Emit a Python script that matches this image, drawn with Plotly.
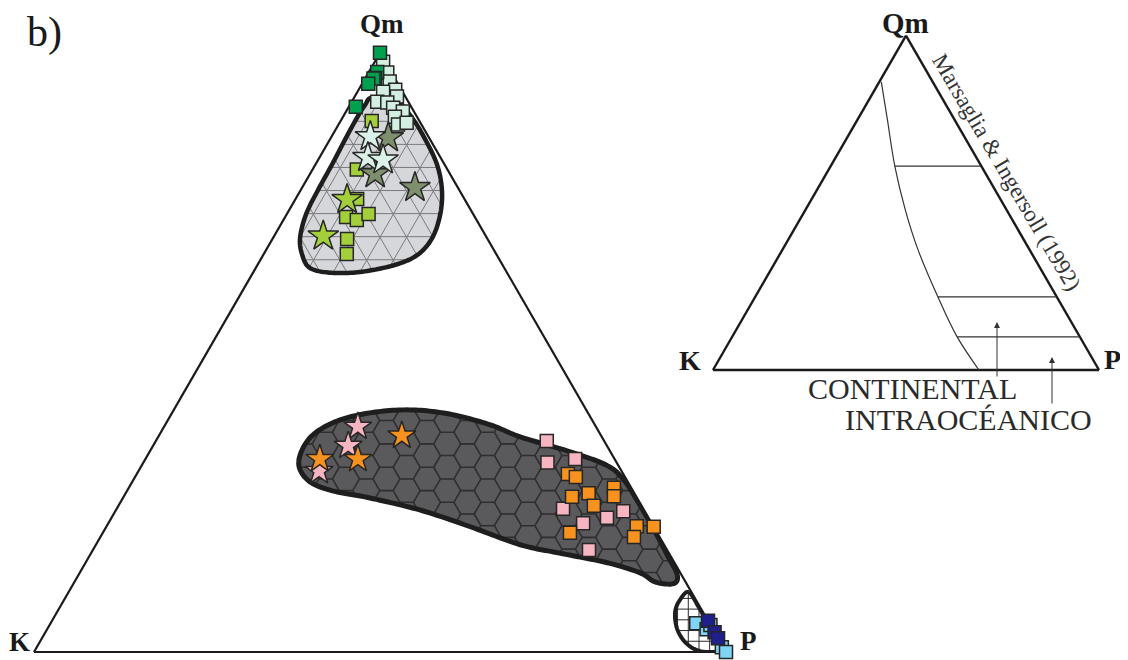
import numpy as np
import plotly.graph_objects as go

# ---------------- sample compositions : Qm, K, P (%) ----------------
mint_sq_qm = [98.5, 96.7, 95.2, 93.8, 93.5, 92.7, 91.8, 91.7, 90.8, 90.2, 89.3, 88.0, 88.3]
mint_sq_k  = [0.3, 0.6, 1.0, 0.9, 2.8, 1.2, 4.5, 3.1, 2.7, 1.6, 3.2, 3.4, 2.0]
mint_sq_p  = [1.2, 2.7, 3.8, 5.3, 3.7, 6.1, 3.7, 5.2, 6.5, 8.2, 7.5, 8.6, 9.7]

dkgreen_sq_qm = [100.0, 96.8, 95.8, 95.7, 94.8, 91.0]
dkgreen_sq_k  = [0.0, 2.0, 2.8, 3.1, 4.3, 8.0]
dkgreen_sq_p  = [0.0, 1.2, 1.4, 1.2, 0.9, 1.0]

lime_sq_qm = [88.6, 80.5, 75.6, 72.6, 72.1, 73.1, 68.9, 66.4]
lime_sq_k  = [6.9, 13.1, 15.5, 18.6, 17.3, 15.1, 20.3, 21.6]
lime_sq_p  = [4.5, 6.4, 8.9, 8.8, 10.6, 11.8, 10.8, 12.0]

olive_st_qm = [85.8, 79.8, 77.5]
olive_st_k  = [5.9, 10.8, 6.2]
olive_st_p  = [8.3, 9.4, 16.3]

mint_st_qm = [86.0, 82.5, 82.1]
mint_st_k  = [8.4, 10.5, 8.5]
mint_st_p  = [5.6, 7.0, 9.4]

lime_st_qm = [75.5, 69.4]
lime_st_k  = [17.0, 23.5]
lime_st_p  = [7.5, 7.1]

pink_sq_qm = [35.2, 31.6, 32.2, 23.9, 21.5, 22.4, 23.5, 17.0]
pink_sq_k  = [8.3, 10.0, 5.7, 11.6, 9.9, 6.0, 3.1, 11.3]
pink_sq_p  = [56.5, 58.4, 62.1, 64.5, 68.6, 71.6, 73.4, 71.7]

orange_sq_qm = [29.7, 29.2, 25.9, 26.5, 24.4, 27.4, 26.0, 19.9, 21.0, 19.2, 20.9]
orange_sq_k  = [8.0, 7.1, 9.3, 6.6, 6.9, 2.5, 3.2, 12.6, 2.4, 3.7, 0.0]
orange_sq_p  = [62.3, 63.7, 64.8, 66.9, 68.7, 70.1, 70.8, 67.5, 76.6, 77.1, 79.1]

pink_st_qm = [37.6, 34.4, 30.2]
pink_st_k  = [34.4, 37.4, 43.7]
pink_st_p  = [28.0, 28.2, 26.1]

orange_st_qm = [36.1, 32.2, 32.2]
orange_st_k  = [28.8, 37.1, 42.6]
orange_st_p  = [35.1, 30.7, 25.2]

ltblue_sq_qm = [4.8, 3.8, 4.5, 0.8, 0.0]
ltblue_sq_k  = [1.9, 0.9, 0.0, 0.2, 0.0]
ltblue_sq_p  = [93.3, 95.3, 95.5, 99.0, 100.0]

dkblue_sq_qm = [5.2, 3.3, 2.3]
dkblue_sq_k  = [0.0, 0.0, 0.0]
dkblue_sq_p  = [94.8, 96.7, 97.7]

# ---------------- field envelopes (fractions Qm, K, P) ----------------
light_field_qm = [0.925, 0.922, 0.891, 0.855, 0.813, 0.771, 0.730, 0.691, 0.663, 0.646, 0.634,
                  0.633, 0.641, 0.663, 0.691, 0.730, 0.771, 0.813, 0.855, 0.891, 0.913]
light_field_k  = [0.049, 0.017, 0.008, 0.007, 0.011, 0.025, 0.048, 0.079, 0.114, 0.155, 0.212,
                  0.256, 0.281, 0.281, 0.270, 0.242, 0.204, 0.163, 0.123, 0.088, 0.065]
light_field_p  = [0.026, 0.061, 0.101, 0.138, 0.176, 0.204, 0.222, 0.230, 0.223, 0.199, 0.154,
                  0.111, 0.078, 0.056, 0.039, 0.028, 0.025, 0.024, 0.022, 0.021, 0.022]

dark_field_qm = [0.317, 0.357, 0.384, 0.399, 0.404, 0.397, 0.379, 0.359, 0.334, 0.311, 0.287, 0.254, 0.204,
                 0.162, 0.129, 0.114, 0.117, 0.132, 0.149, 0.165, 0.179, 0.209, 0.237, 0.257, 0.270, 0.287]
dark_field_k  = [0.459, 0.423, 0.373, 0.315, 0.255, 0.201, 0.151, 0.118, 0.058, 0.016, 0.004, 0.002, 0.002,
                 0.004, 0.006, 0.019, 0.044, 0.058, 0.097, 0.158, 0.208, 0.265, 0.324, 0.386, 0.437, 0.461]
dark_field_p  = [0.224, 0.220, 0.243, 0.286, 0.341, 0.402, 0.470, 0.523, 0.608, 0.673, 0.709, 0.744, 0.794,
                 0.834, 0.865, 0.867, 0.839, 0.810, 0.754, 0.677, 0.613, 0.526, 0.439, 0.357, 0.293, 0.252]

blue_field_qm = [0.100, 0.087, 0.067, 0.040, 0.017, 0.003, 0.000, 0.010, 0.040, 0.075]
blue_field_k  = [0.004, 0.023, 0.040, 0.051, 0.051, 0.040, 0.018, 0.002, 0.002, 0.002]
blue_field_p  = [0.896, 0.890, 0.893, 0.909, 0.932, 0.957, 0.982, 0.988, 0.958, 0.923]

# ---------------- inset: Marsaglia & Ingersoll (1992) ----------------
inset_curve_qm = [0.862, 0.751, 0.610, 0.480, 0.360, 0.219, 0.099, 0.0]
inset_curve_k  = [0.133, 0.173, 0.224, 0.262, 0.289, 0.308, 0.318, 0.311]
inset_curve_p  = [0.005, 0.076, 0.166, 0.258, 0.351, 0.473, 0.583, 0.689]
inset_tie_qm   = [0.610, 0.219, 0.099]

# page offset of the plot div (default body margin) and figure size
OFF = 8
W, H = 1128 - OFF, 660 - OFF
SQ3 = np.sqrt(3) / 2


def to_xy(qm, k, p):
    qm, k, p = (np.asarray(v, float) for v in (qm, k, p))
    s = qm + k + p
    a, c = qm / s, p / s
    return np.column_stack([c + a / 2, a * SQ3])


def to_abc(pt):
    a = pt[1] / SQ3
    c = pt[0] - a / 2
    b = 1 - a - c
    v = np.clip([a, b, c], 0, None)
    return v / v.sum()


def smooth_closed(P, n=14):
    N = len(P)
    out = []
    for i in range(N):
        p0, p1, p2, p3 = P[i - 1], P[i], P[(i + 1) % N], P[(i + 2) % N]
        for t in np.linspace(0, 1, n, endpoint=False):
            t2, t3 = t * t, t * t * t
            out.append(0.5 * (2 * p1 + (-p0 + p2) * t + (2 * p0 - 5 * p1 + 4 * p2 - p3) * t2
                              + (-p0 + 3 * p1 - 3 * p2 + p3) * t3))
    out.append(out[0])
    return np.array(out)


def inside(pt, poly):
    x, y = pt
    x1, y1, x2, y2 = poly[:-1, 0], poly[:-1, 1], poly[1:, 0], poly[1:, 1]
    cond = (y1 > y) != (y2 > y)
    xi = x1[cond] + (y - y1[cond]) * (x2[cond] - x1[cond]) / (y2[cond] - y1[cond])
    return np.count_nonzero(xi > x) % 2 == 1


def clip_segment(p0, p1, poly):
    p0, p1 = np.asarray(p0, float), np.asarray(p1, float)
    d = p1 - p0
    e0 = poly[:-1]
    f = poly[1:] - poly[:-1]
    den = d[0] * f[:, 1] - d[1] * f[:, 0]
    w = e0 - p0
    with np.errstate(divide='ignore', invalid='ignore'):
        t = (w[:, 0] * f[:, 1] - w[:, 1] * f[:, 0]) / den
        u = (w[:, 0] * d[1] - w[:, 1] * d[0]) / den
    ok = (np.abs(den) > 1e-15) & (t > 0) & (t < 1) & (u >= 0) & (u < 1)
    ts = np.sort(np.concatenate([[0.0], t[ok], [1.0]]))
    segs = []
    for t0, t1 in zip(ts[:-1], ts[1:]):
        if t1 - t0 < 1e-9:
            continue
        if inside(p0 + d * (t0 + t1) / 2, poly):
            segs.append((p0 + d * t0, p0 + d * t1))
    return segs


def tri_grid(poly, s):
    segs = []
    for k in np.arange(s, 1, s):
        segs += clip_segment([k / 2, k * SQ3], [1 - k / 2, k * SQ3], poly)
        segs += clip_segment([k, 0], [k + (1 - k) / 2, (1 - k) * SQ3], poly)
        segs += clip_segment([1 - k, 0], [(1 - k) / 2, (1 - k) * SQ3], poly)
    return segs


def square_grid(poly, s):
    segs = []
    xmin, ymin = poly.min(axis=0)
    xmax, ymax = poly.max(axis=0)
    for y in np.arange(np.floor(ymin / s) * s, ymax, s):
        segs += clip_segment([xmin - 0.01, y], [xmax + 0.01, y], poly)
    for x in np.arange(np.floor(xmin / s) * s, xmax, s):
        segs += clip_segment([x, ymin - 0.01], [x, ymax + 0.01], poly)
    return segs


def hex_grid(poly, R):
    # flat-topped honeycomb
    segs = []
    xmin, ymin = poly.min(axis=0)
    xmax, ymax = poly.max(axis=0)
    dx, dy = 1.5 * R, np.sqrt(3) * R
    ang = np.radians(60 * np.arange(7))
    i = 0
    x = xmin - R
    while x < xmax + R:
        y = ymin - dy + (dy / 2 if i % 2 else 0)
        while y < ymax + dy:
            vx, vy = x + R * np.cos(ang), y + R * np.sin(ang)
            for k in range(3):
                segs += clip_segment([vx[k], vy[k]], [vx[k + 1], vy[k + 1]], poly)
            y += dy
        x += dx
        i += 1
    return segs


def seg_lists(segs):
    A, B, C = [], [], []
    for p, q in segs:
        for pt in (p, q):
            a, b, c = to_abc(pt)
            A.append(a); B.append(b); C.append(c)
        A.append(None); B.append(None); C.append(None)
    return A, B, C


def curve_lists(P):
    abc = np.array([to_abc(p) for p in P])
    return abc[:, 0], abc[:, 1], abc[:, 2]


fig = go.Figure()
OUTLINE = '#1e1e1e'

fields = [
    (light_field_qm, light_field_k, light_field_p, '#d6d7db', '#7a7a7d', 'tri', 0.0385, 1.0, 4.5),
    (dark_field_qm, dark_field_k, dark_field_p, '#5a5a5c', '#2e2e2f', 'hex', 13.5 / 692, 1.6, 5),
    (blue_field_qm, blue_field_k, blue_field_p, '#ffffff', '#2a2a2a', 'sq', 0.0155, 1.0, 4),
]
for qm, k, p, fillc, gridc, kind, s, gw, lw in fields:
    poly = smooth_closed(to_xy(qm, k, p))
    A, B, C = curve_lists(poly)
    fig.add_trace(go.Scatterternary(a=A, b=B, c=C, mode='lines', fill='toself', fillcolor=fillc,
                                    line=dict(width=0, color=fillc), hoverinfo='skip', cliponaxis=False))
    if kind == 'tri':
        segs = tri_grid(poly, s)
    elif kind == 'hex':
        segs = hex_grid(poly, s)
    else:
        segs = square_grid(poly, s)
    gA, gB, gC = seg_lists(segs)
    fig.add_trace(go.Scatterternary(a=gA, b=gB, c=gC, mode='lines', line=dict(width=gw, color=gridc),
                                    hoverinfo='skip', cliponaxis=False))
    fig.add_trace(go.Scatterternary(a=A, b=B, c=C, mode='lines', line=dict(width=lw, color=OUTLINE),
                                    hoverinfo='skip', cliponaxis=False))

groups = [
    (mint_sq_qm, mint_sq_k, mint_sq_p, 'square', 13, '#d3efe1'),
    (dkgreen_sq_qm, dkgreen_sq_k, dkgreen_sq_p, 'square', 13, '#00a04f'),
    (lime_sq_qm, lime_sq_k, lime_sq_p, 'square', 13, '#a3cf3b'),
    (olive_st_qm, olive_st_k, olive_st_p, 'star', 23, '#7e8f6d'),
    (mint_st_qm, mint_st_k, mint_st_p, 'star', 23, '#daf2e8'),
    (lime_st_qm, lime_st_k, lime_st_p, 'star', 23, '#a3cf3b'),
    (pink_sq_qm, pink_sq_k, pink_sq_p, 'square', 13, '#f6b5c1'),
    (orange_sq_qm, orange_sq_k, orange_sq_p, 'square', 13, '#f7921e'),
    (pink_st_qm, pink_st_k, pink_st_p, 'star', 21, '#f6b5c1'),
    (orange_st_qm, orange_st_k, orange_st_p, 'star', 21, '#f7921e'),
    (ltblue_sq_qm, ltblue_sq_k, ltblue_sq_p, 'square', 13, '#80d4f4'),
    (dkblue_sq_qm, dkblue_sq_k, dkblue_sq_p, 'square', 13, '#20208c'),
]
for qm, k, p, sym, size, col in groups:
    fig.add_trace(go.Scatterternary(a=qm, b=k, c=p, mode='markers', cliponaxis=False,
                                    marker=dict(symbol=sym, size=size, color=col,
                                                line=dict(width=1.5, color='#262626'))))

# inset diagram
fig.add_trace(go.Scatterternary(subplot='ternary2', a=inset_curve_qm, b=inset_curve_k, c=inset_curve_p,
                                mode='lines', line=dict(width=1.2, color='#333333', shape='spline'),
                                hoverinfo='skip'))
for q in inset_tie_qm:
    i = inset_curve_qm.index(q)
    fig.add_trace(go.Scatterternary(subplot='ternary2', a=[q, q], b=[inset_curve_k[i], 0],
                                    c=[inset_curve_p[i], 1 - q], mode='lines',
                                    line=dict(width=1.2, color='#333333'), hoverinfo='skip'))


def axis(lw):
    return dict(showgrid=False, showticklabels=False, ticks='', showline=True, linecolor='#1a1a1a',
                linewidth=lw, title=dict(text=''), layer='below traces')


def fx(px):
    return (px - OFF) / W


def fy(py):
    return 1 - (py - OFF) / H


SERIF = 'Liberation Serif, Times New Roman, serif'
ann = []


def label(text, px, py, size, bold=True, angle=0, color='#1a1a1a'):
    ann.append(dict(x=fx(px), y=fy(py), xref='paper', yref='paper', showarrow=False, textangle=angle,
                    text=('<b>%s</b>' % text) if bold else text, xanchor='center', yanchor='middle',
                    font=dict(family=SERIF, size=size, color=color)))


label('b)', 44, 32, 42, bold=False)
label('Qm', 382, 24, 27)
label('K', 19, 642, 27)
label('P', 748, 641, 27)
label('Qm', 905, 23, 29)
label('K', 690, 360, 28)
label('P', 1112, 359, 28)
label('Marsaglia &amp; Ingersoll (1992)', 1007, 172, 23, bold=False, angle=59.5, color='#333333')
label('CONTINENTAL', 912, 388, 30, bold=False, color='#2a2a2a')
label('INTRAOCÉANICO', 968, 419, 30, bold=False, color='#2a2a2a')
for tipx, tipy, length in [(997, 322, 56), (1052, 357, 48)]:
    ann.append(dict(x=fx(tipx), y=fy(tipy), xref='paper', yref='paper', ax=0, ay=length, text='',
                    showarrow=True, arrowhead=2, arrowsize=1.2, arrowwidth=1, arrowcolor='#333333'))

fig.update_layout(
    width=W, height=H, margin=dict(l=0, r=0, t=0, b=0), paper_bgcolor='white', plot_bgcolor='white',
    showlegend=False,
    ternary=dict(domain=dict(x=[fx(34), fx(726)], y=[fy(652), fy(52.7)]), bgcolor='rgba(0,0,0,0)', sum=1,
                 aaxis=axis(2.2), baxis=axis(2.2), caxis=axis(2.2)),
    ternary2=dict(domain=dict(x=[fx(713), fx(1099)], y=[fy(370), fy(35.7)]), bgcolor='rgba(0,0,0,0)', sum=1,
                  aaxis=axis(2.4), baxis=axis(2.4), caxis=axis(2.4)),
    annotations=ann,
)

fig.write_html('out.html', config=dict(displayModeBar=False))
